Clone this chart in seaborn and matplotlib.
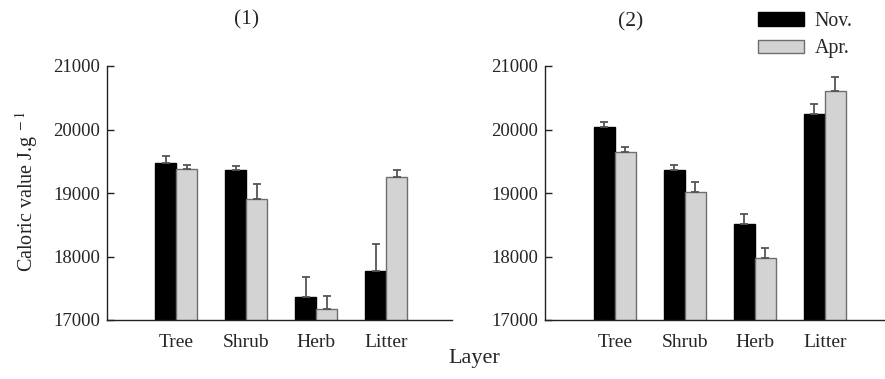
import matplotlib
matplotlib.use("Agg")
import matplotlib.pyplot as plt
import seaborn as sns
import pandas as pd
import numpy as np
from matplotlib.patches import Patch

layers = ["Tree", "Shrub", "Herb", "Litter"]
months = ["Nov.", "Apr."]

p1_nov = [19480, 19370, 17355, 17775]
p1_apr = [19385, 18900, 17170, 19245]
p1_nov_err = [95, 63, 320, 415]
p1_apr_err = [50, 247, 205, 110]

p2_nov = [20040, 19362, 18505, 20242]
p2_apr = [19645, 19022, 17982, 20600]
p2_nov_err = [74, 79, 162, 152]
p2_apr_err = [84, 147, 147, 221]

sns.set_theme(style="white")
plt.rcParams["font.family"] = ["Liberation Serif", "DejaVu Serif"]
plt.rcParams["mathtext.fontset"] = "stix"

fig = plt.figure(figsize=(8.85, 3.79), dpi=100)
ax1 = fig.add_axes([107/885, 1-320/379, (452-107)/885, (320-66)/379])
ax2 = fig.add_axes([545/885, 1-320/379, (884-545)/885, (320-66)/379])

palette = {"Nov.": "#000000", "Apr.": "#d3d3d3"}
edges = {"Nov.": "#000000", "Apr.": "#6e6e6e"}


def draw(ax, nov, apr, nerr, aerr, xlim):
    df = pd.DataFrame({
        "Layer": layers * 2,
        "Month": [months[0]] * 4 + [months[1]] * 4,
        "Value": nov + apr,
        "Err": nerr + aerr,
    })
    sns.barplot(data=df, x="Layer", y="Value", hue="Month", order=layers,
                hue_order=months, palette=palette, width=0.6, errorbar=None,
                ax=ax, legend=False)
    for i, m in enumerate(months):
        cont = ax.containers[i]
        sub = df[df["Month"] == m].set_index("Layer").loc[layers]
        xs, ys = [], []
        for bar in cont:
            bar.set_edgecolor(edges[m])
            bar.set_linewidth(1.0)
            xs.append(bar.get_x() + bar.get_width() / 2)
            ys.append(bar.get_height())
        errs = sub["Err"].values
        ax.errorbar(xs, ys, yerr=[np.zeros(len(errs)), errs], fmt="none",
                    ecolor="#555555", elinewidth=1.3, capsize=3.2,
                    capthick=1.3, zorder=1)
    ax.set_ylim(17000, 21000)
    ax.set_xlim(*xlim)
    ax.set_yticks([17000, 18000, 19000, 20000, 21000])
    ax.set_xlabel("")
    ax.set_ylabel("")
    for s in ["top", "right"]:
        ax.spines[s].set_visible(False)
    for s in ["left", "bottom"]:
        ax.spines[s].set_color("#222222")
        ax.spines[s].set_linewidth(1.0)
    ax.tick_params(axis="y", direction="in", length=5, width=1.0,
                   color="#222222", labelsize=13.5, pad=5, left=True)
    ax.tick_params(axis="x", length=0, labelsize=14, pad=10)


draw(ax1, p1_nov, p1_apr, p1_nov_err, p1_apr_err, (-0.986, 3.94))
draw(ax2, p2_nov, p2_apr, p2_nov_err, p2_apr_err, (-1.0, 3.843))

fig.text(247/885, 1-20/379, "(1)", ha="center", va="center", fontsize=15.5)
fig.text(631/885, 1-22/379, "(2)", ha="center", va="center", fontsize=15.5)
fig.text(474/885, 1-359/379, "Layer", ha="center", va="center", fontsize=16)
fig.text(27/885, 1-192/379, "Caloric value J.g$^{\\ -1}$", rotation=90,
         ha="center", va="center", fontsize=14.5)

handles = [Patch(facecolor=palette[m], edgecolor=edges[m], linewidth=1.0)
           for m in months]
fig.legend(handles, months, loc="upper left",
           bbox_to_anchor=(752/885, 1-6/379), frameon=False, fontsize=14.3,
           handlelength=2.3, handleheight=0.65, handletextpad=0.55,
           labelspacing=0.42, borderaxespad=0, borderpad=0.3)

fig.savefig("out.png", dpi=100)
